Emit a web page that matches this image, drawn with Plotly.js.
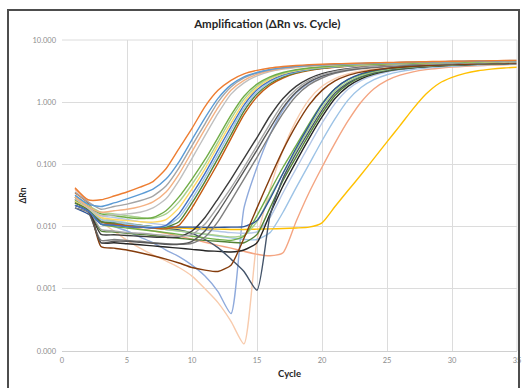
<!DOCTYPE html>
<html>
<head>
<meta charset="utf-8">
<script src="https://cdn.plot.ly/plotly-3.0.1.min.js"></script>
<style>
html,body{margin:0;padding:0;background:#fff;}
#frame{position:absolute;left:7px;top:9px;width:513px;height:381px;border:2px solid #4d4d4d;box-sizing:border-box;pointer-events:none;}
#chart{width:524px;height:388px;}
</style>
</head>
<body>
<div id="chart"></div>
<div id="frame"></div>
<script>
const cycles = [1,2,3,4,5,6,7,8,9,10,11,12,13,14,15,16,17,18,19,20,21,22,23,24,25,26,27,28,29,30,31,32,33,34,35];
const yTickVals = [0.0001,0.001,0.01,0.1,1,10];
const yTickText = ['0.000','0.001','0.010','0.100','1.000','10.000'];
const xTickVals = [0,5,10,15,20,25,30,35];

// Group A (earliest)
const wellA1 = [0.042,0.027,0.027,0.031,0.036,0.043,0.053,0.085,0.18,0.38,0.85,1.55,2.25,2.85,3.25,3.55,3.75,3.9,4.0,4.08,4.14,4.2,4.25,4.3,4.35,4.4,4.44,4.48,4.52,4.55,4.58,4.61,4.64,4.67,4.7];
const wellA2 = [0.032,0.023,0.021,0.024,0.028,0.033,0.04,0.058,0.11,0.25,0.56,1.15,1.9,2.55,3.0,3.35,3.6,3.78,3.9,4.0,4.07,4.13,4.19,4.24,4.29,4.34,4.38,4.42,4.46,4.5,4.53,4.56,4.59,4.62,4.65];
const wellA3 = [0.036,0.025,0.019,0.021,0.023,0.026,0.031,0.045,0.088,0.2,0.45,1.0,1.75,2.45,2.95,3.3,3.55,3.75,3.88,3.98,4.06,4.13,4.19,4.25,4.3,4.35,4.4,4.44,4.48,4.52,4.56,4.6,4.63,4.66,4.7];
const wellA4 = [0.03,0.021,0.017,0.018,0.019,0.021,0.025,0.036,0.07,0.16,0.37,0.82,1.55,2.25,2.8,3.2,3.48,3.68,3.82,3.93,4.02,4.1,4.16,4.22,4.28,4.33,4.38,4.42,4.46,4.5,4.54,4.57,4.6,4.63,4.66];
const wellA5 = [0.028,0.02,0.015,0.0155,0.016,0.017,0.02,0.028,0.055,0.125,0.29,0.66,1.35,2.05,2.65,3.1,3.4,3.62,3.78,3.9,4.0,4.08,4.15,4.21,4.27,4.32,4.37,4.41,4.45,4.49,4.53,4.56,4.59,4.62,4.65];
// Group B
const wellB1 = [0.027,0.021,0.016,0.015,0.014,0.0135,0.014,0.018,0.03,0.058,0.12,0.27,0.62,1.25,1.95,2.55,3.0,3.32,3.55,3.72,3.85,3.94,4.02,4.09,4.15,4.21,4.26,4.31,4.35,4.39,4.43,4.47,4.5,4.53,4.56];
const wellB2 = [0.03,0.022,0.017,0.016,0.015,0.014,0.0135,0.016,0.025,0.048,0.1,0.23,0.54,1.12,1.82,2.45,2.92,3.26,3.5,3.68,3.82,3.92,4.0,4.07,4.13,4.19,4.24,4.29,4.33,4.37,4.41,4.44,4.47,4.5,4.53];
const wellB3 = [0.026,0.02,0.014,0.013,0.0125,0.012,0.0118,0.013,0.02,0.04,0.085,0.2,0.46,1.0,1.7,2.35,2.85,3.2,3.45,3.64,3.78,3.89,3.97,4.04,4.1,4.16,4.21,4.26,4.3,4.34,4.38,4.41,4.44,4.47,4.5];
const wellB4 = [0.022,0.018,0.011,0.0105,0.01,0.0098,0.0096,0.0105,0.016,0.033,0.072,0.17,0.4,0.9,1.58,2.22,2.75,3.12,3.4,3.6,3.75,3.86,3.95,4.02,4.08,4.14,4.19,4.24,4.28,4.32,4.36,4.39,4.42,4.45,4.48];
const wellB5 = [0.03,0.02,0.013,0.012,0.011,0.0105,0.01,0.0102,0.014,0.028,0.062,0.145,0.35,0.8,1.45,2.1,2.65,3.05,3.35,3.56,3.72,3.84,3.93,4.0,4.07,4.13,4.18,4.23,4.27,4.31,4.35,4.38,4.41,4.44,4.47];
const wellB6 = [0.024,0.019,0.012,0.0115,0.011,0.0105,0.01,0.0098,0.012,0.024,0.053,0.125,0.3,0.72,1.35,2.0,2.55,2.98,3.3,3.52,3.69,3.82,3.91,3.99,4.06,4.12,4.17,4.22,4.26,4.3,4.34,4.38,4.41,4.44,4.47];
const wellB7 = [0.035,0.024,0.012,0.011,0.0105,0.01,0.0095,0.0092,0.0105,0.02,0.045,0.105,0.26,0.63,1.22,1.88,2.45,2.9,3.22,3.46,3.64,3.78,3.88,3.96,4.03,4.1,4.15,4.2,4.25,4.29,4.33,4.36,4.39,4.42,4.45];
// Group C
const wellC1 = [0.025,0.02,0.009,0.0085,0.008,0.0078,0.0075,0.0072,0.007,0.0075,0.011,0.021,0.042,0.09,0.2,0.45,0.95,1.6,2.25,2.75,3.12,3.4,3.6,3.74,3.85,3.94,4.02,4.08,4.14,4.19,4.24,4.28,4.32,4.35,4.38];
const wellC2 = [0.022,0.018,0.0055,0.0058,0.0058,0.0056,0.0054,0.0052,0.0052,0.0058,0.0085,0.017,0.036,0.078,0.17,0.38,0.82,1.45,2.1,2.62,3.02,3.32,3.53,3.69,3.81,3.9,3.98,4.05,4.11,4.16,4.21,4.25,4.29,4.32,4.35];
const wellC3 = [0.028,0.021,0.012,0.01,0.0085,0.0068,0.0055,0.0042,0.0033,0.0024,0.0016,0.0009,0.0004,0.02,0.09,0.3,0.75,1.4,2.05,2.6,3.0,3.3,3.52,3.68,3.8,3.9,3.98,4.05,4.11,4.16,4.21,4.25,4.29,4.32,4.35];
const wellC4 = [0.03,0.022,0.012,0.0085,0.006,0.0045,0.0035,0.0028,0.0022,0.0016,0.001,0.0006,0.0003,0.00013,0.006,0.04,0.17,0.5,1.1,1.8,2.4,2.85,3.18,3.42,3.6,3.74,3.85,3.94,4.02,4.08,4.14,4.19,4.24,4.28,4.32];
const wellC5 = [0.028,0.022,0.0048,0.0045,0.0042,0.0038,0.0034,0.003,0.0026,0.0022,0.002,0.0019,0.0024,0.0065,0.02,0.06,0.17,0.42,0.9,1.55,2.2,2.7,3.05,3.3,3.5,3.65,3.77,3.87,3.95,4.02,4.08,4.13,4.18,4.22,4.26];
const wellC6 = [0.02,0.017,0.006,0.0062,0.006,0.0058,0.0055,0.0053,0.0052,0.0054,0.0068,0.012,0.026,0.058,0.13,0.3,0.66,1.25,1.9,2.45,2.9,3.22,3.45,3.62,3.75,3.85,3.94,4.01,4.07,4.13,4.18,4.22,4.26,4.3,4.33];
const wellC7 = [0.024,0.019,0.0075,0.0074,0.0072,0.007,0.0068,0.0067,0.0068,0.0085,0.014,0.028,0.058,0.125,0.27,0.6,1.15,1.8,2.4,2.88,3.22,3.46,3.64,3.77,3.88,3.96,4.03,4.09,4.15,4.2,4.24,4.28,4.32,4.35,4.38];
// Group D
const wellX1 = [0.02,0.016,0.012,0.011,0.0105,0.0102,0.01,0.01,0.0098,0.0098,0.0097,0.0097,0.0098,0.01,0.0125,0.028,0.072,0.18,0.42,0.92,1.65,2.32,2.85,3.22,3.48,3.66,3.8,3.9,3.99,4.06,4.12,4.17,4.22,4.26,4.3];
const wellD1 = [0.025,0.02,0.011,0.01,0.0095,0.009,0.0085,0.008,0.0075,0.007,0.0066,0.0062,0.006,0.007,0.015,0.037,0.09,0.2,0.45,0.95,1.65,2.3,2.8,3.17,3.43,3.62,3.76,3.87,3.96,4.03,4.09,4.15,4.2,4.25,4.29];
const wellD2 = [0.03,0.022,0.013,0.012,0.011,0.0102,0.0095,0.009,0.0085,0.008,0.0076,0.0072,0.0068,0.0072,0.012,0.03,0.072,0.165,0.38,0.82,1.5,2.15,2.68,3.07,3.36,3.56,3.71,3.83,3.92,4.0,4.07,4.12,4.17,4.22,4.26];
const wellD3 = [0.022,0.018,0.011,0.0105,0.01,0.0098,0.0095,0.0092,0.0088,0.0078,0.0062,0.0046,0.003,0.0019,0.00095,0.015,0.06,0.15,0.34,0.74,1.4,2.05,2.6,3.0,3.3,3.5,3.66,3.78,3.88,3.96,4.03,4.09,4.15,4.2,4.24];
const wellD4 = [0.024,0.019,0.0085,0.0082,0.0078,0.0075,0.0072,0.0068,0.0065,0.0062,0.006,0.0058,0.0056,0.0055,0.0075,0.02,0.055,0.13,0.3,0.66,1.28,1.95,2.5,2.92,3.23,3.45,3.62,3.75,3.85,3.94,4.01,4.07,4.13,4.18,4.22];
// Group E
const wellE1 = [0.026,0.02,0.0055,0.0055,0.0053,0.0051,0.0049,0.0047,0.0045,0.0043,0.0041,0.004,0.0039,0.0042,0.0055,0.016,0.045,0.11,0.26,0.58,1.15,1.8,2.38,2.83,3.16,3.4,3.58,3.71,3.82,3.91,3.98,4.05,4.1,4.15,4.2];
const wellE2 = [0.03,0.022,0.015,0.014,0.013,0.012,0.0112,0.0105,0.0098,0.0092,0.0088,0.0084,0.008,0.0078,0.0082,0.014,0.035,0.085,0.2,0.46,0.95,1.62,2.22,2.7,3.06,3.32,3.51,3.66,3.77,3.87,3.95,4.02,4.08,4.13,4.18];
const wellE3 = [0.04,0.025,0.012,0.011,0.01,0.0092,0.0085,0.0078,0.007,0.0063,0.0056,0.005,0.0045,0.004,0.0036,0.0034,0.0038,0.012,0.035,0.09,0.22,0.5,1.0,1.65,2.25,2.72,3.08,3.34,3.52,3.66,3.77,3.86,3.94,4.0,4.06];
const wellE4 = [0.028,0.021,0.014,0.0125,0.0115,0.0105,0.0098,0.009,0.0085,0.008,0.0075,0.007,0.0066,0.0062,0.0062,0.008,0.017,0.042,0.1,0.24,0.54,1.08,1.72,2.3,2.76,3.1,3.35,3.53,3.67,3.78,3.87,3.95,4.02,4.08,4.13];
// Latest (yellow)
const wellY = [0.03,0.022,0.013,0.012,0.011,0.0105,0.01,0.0097,0.0095,0.0093,0.0092,0.0091,0.009,0.009,0.0091,0.0092,0.0093,0.0095,0.0098,0.0115,0.021,0.038,0.068,0.125,0.23,0.42,0.78,1.35,2.0,2.5,2.9,3.2,3.4,3.55,3.65];

const series = [
  {y: wellC4, c: '#F8CBAD'},
  {y: wellC3, c: '#8FAADC'},
  {y: wellE3, c: '#F4A582'},
  {y: wellE4, c: '#9DC3E6'},
  {y: wellE2, c: '#B4C7E7'},
  {y: wellY,  c: '#FFC000'},
  {y: wellE1, c: '#262626'},
  {y: wellD4, c: '#548235'},
  {y: wellD3, c: '#44546A'},
  {y: wellD2, c: '#A9D18E'},
  {y: wellD1, c: '#70AD47'},
  {y: wellX1, c: '#2F5597'},
  {y: wellC6, c: '#7F7F7F'},
  {y: wellC5, c: '#843C0C'},
  {y: wellC2, c: '#595959'},
  {y: wellC7, c: '#3A3A3A'},
  {y: wellC1, c: '#A5A5A5'},
  {y: wellB7, c: '#C55A11'},
  {y: wellB6, c: '#548235'},
  {y: wellB5, c: '#9DC3E6'},
  {y: wellB4, c: '#4472C4'},
  {y: wellB3, c: '#FFD966'},
  {y: wellB2, c: '#A9D18E'},
  {y: wellB1, c: '#70AD47'},
  {y: wellA5, c: '#BFBFBF'},
  {y: wellA4, c: '#F4B183'},
  {y: wellA3, c: '#A5A5A5'},
  {y: wellA2, c: '#5B9BD5'},
  {y: wellA1, c: '#ED7D31'}
];

const traces = series.map(s => ({
  x: cycles, y: s.y, type: 'scatter', mode: 'lines',
  line: {color: s.c, width: 1.4, shape: 'spline', smoothing: 0.6},
  hoverinfo: 'skip'
}));

const tickFont = {family: 'Lato, "Open Sans", sans-serif', size: 7.5, color: '#8c8c8c'};
const layout = {
  width: 524, height: 388,
  margin: {l: 62, r: 7, t: 40, b: 37},
  paper_bgcolor: '#ffffff', plot_bgcolor: '#ffffff',
  showlegend: false,
  title: {text: '<b>Amplification (ΔRn vs. Cycle)</b>', font: {family: 'Lato, "Open Sans", sans-serif', size: 11.5, color: '#262626'}, x: 0.51, xanchor: 'center', y: 0.938, yanchor: 'middle'},
  xaxis: {
    range: [0, 35], tickvals: xTickVals, ticks: '', showgrid: true, gridcolor: '#dcdcdc', gridwidth: 1,
    zeroline: false, showline: true, linecolor: '#d0d0d0', linewidth: 1, mirror: false,
    tickfont: tickFont, ticklabelstandoff: 2,
    title: {text: '<b>Cycle</b>', font: {family: 'Lato, "Open Sans", sans-serif', size: 9.5, color: '#262626'}, standoff: 6}
  },
  yaxis: {
    type: 'log', range: [-4, 1], tickvals: yTickVals, ticktext: yTickText, ticks: '',
    showgrid: true, gridcolor: '#dcdcdc', gridwidth: 1, zeroline: false, showline: false,
    tickfont: tickFont, ticklabelstandoff: 5,
    title: {text: '<b>ΔRn</b>', font: {family: 'Lato, "Open Sans", sans-serif', size: 8.5, color: '#262626'}, standoff: 4}
  },
  shapes: [
    {type: 'line', xref: 'paper', yref: 'paper', x0: 1, x1: 1, y0: 0, y1: 1, line: {color: '#dcdcdc', width: 1}},
    {type: 'line', xref: 'paper', yref: 'paper', x0: 0, x1: 1, y0: 1, y1: 1, line: {color: '#dcdcdc', width: 1}}
  ]
};

Plotly.newPlot('chart', traces, layout, {staticPlot: true, displayModeBar: false});
</script>
</body>
</html>
